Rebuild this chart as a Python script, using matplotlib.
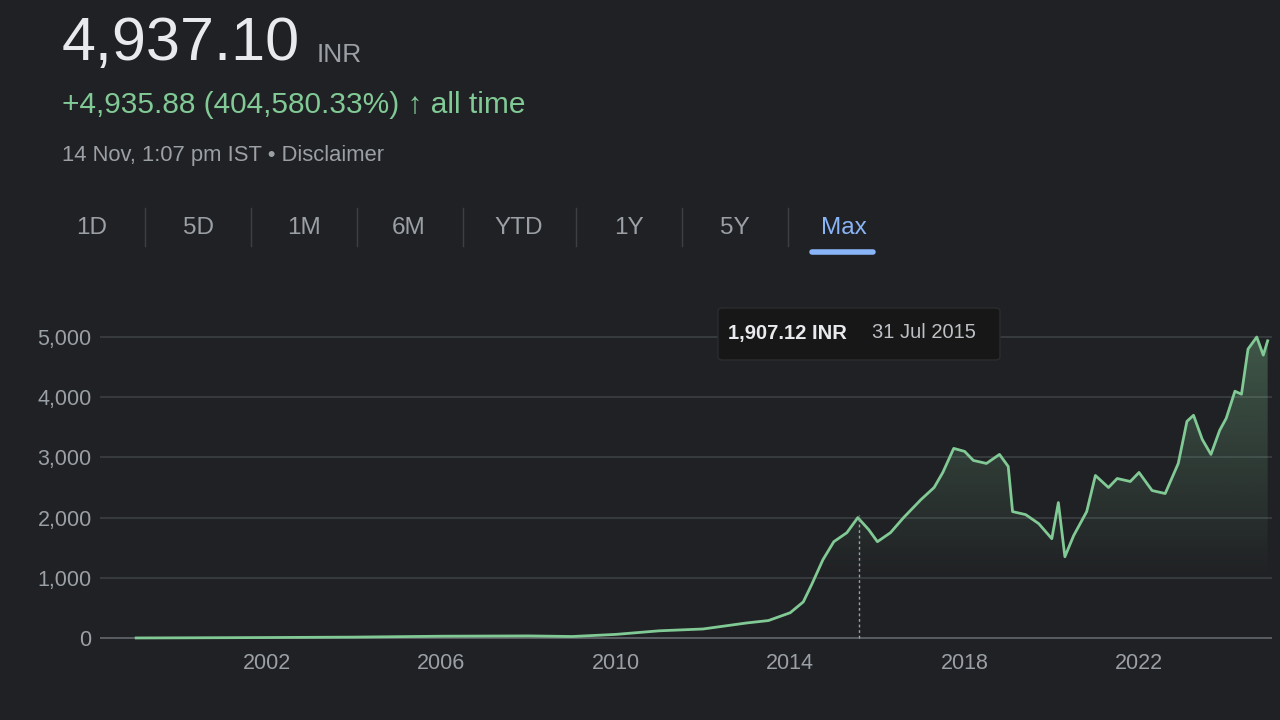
import matplotlib
matplotlib.use("Agg")
import matplotlib.pyplot as plt
import numpy as np
from matplotlib.patches import Polygon

plt.rcParams['font.family'] = ['Liberation Sans', 'DejaVu Sans']

years = [1999.0, 2000.0, 2002.0, 2004.0, 2006.0, 2008.0, 2009.0, 2010.0, 2011.0, 2012.0,
         2013.0, 2013.5, 2014.0, 2014.3, 2014.5, 2014.75, 2015.0, 2015.3, 2015.55, 2015.8,
         2016.0, 2016.3, 2016.6, 2016.8, 2017.0, 2017.3, 2017.5, 2017.75, 2018.0, 2018.2,
         2018.5, 2018.8, 2019.0, 2019.1, 2019.4, 2019.7, 2020.0, 2020.15, 2020.3, 2020.5,
         2020.8, 2021.0, 2021.3, 2021.5, 2021.8, 2022.0, 2022.3, 2022.6, 2022.9, 2023.1,
         2023.25, 2023.45, 2023.65, 2023.85, 2024.0, 2024.2, 2024.35, 2024.5, 2024.7, 2024.85, 2024.95]
prices = [1, 3, 8, 15, 30, 35, 25, 60, 120, 150,
          250, 290, 420, 600, 900, 1300, 1600, 1750, 2000, 1800,
          1600, 1750, 2000, 2150, 2300, 2500, 2750, 3150, 3100, 2950,
          2900, 3050, 2850, 2100, 2050, 1900, 1650, 2250, 1350, 1700,
          2100, 2700, 2500, 2650, 2600, 2750, 2450, 2400, 2900, 3600,
          3700, 3300, 3050, 3450, 3650, 4100, 4050, 4800, 5000, 4700, 4937]
yticks = [0, 1000, 2000, 3000, 4000, 5000]
xticks = [2002, 2006, 2010, 2014, 2018, 2022]
tabs = ["1D", "5D", "1M", "6M", "YTD", "1Y", "5Y", "Max"]

BG = "#202124"
fig = plt.figure(figsize=(12.8, 7.2), dpi=100, facecolor=BG)
W, H = 1280, 720
ax = fig.add_axes([100/W, 1-645/H, 1172/W, 340/H], facecolor=BG)
ax.set_xlim(1998.17, 2025.05)
ax.set_ylim(-116, 5532)
for s in ax.spines.values():
    s.set_visible(False)
for t in yticks:
    ax.axhline(t, color="#5f6368" if t == 0 else "#3c4043", lw=1.3 if t == 0 else 1.2, zorder=1)
ax.set_yticks(yticks)
ax.set_yticklabels([f"{t:,}" for t in yticks])
ax.set_xticks(xticks)
ax.tick_params(length=0, colors="#9aa0a6", labelsize=15.5)
ax.tick_params(axis="y", pad=6)
ax.tick_params(axis="x", pad=6)

x = np.array(years); y = np.array(prices)
grad = np.linspace(0, 1, 256).reshape(-1, 1)
rgba = np.zeros((256, 1, 4))
rgba[..., 0] = 0x81/255; rgba[..., 1] = 0xc9/255; rgba[..., 2] = 0x95/255
rgba[..., 3] = np.clip((grad[:, 0] - 0.2) / 0.8, 0, 1)[:, None] * 0.32
im = ax.imshow(rgba, extent=[x[0], x[-1], 0, 5000], origin="lower", aspect="auto", zorder=2)
poly = Polygon(np.column_stack([np.r_[x, x[-1], x[0]], np.r_[y, 0, 0]]), closed=True, transform=ax.transData)
im.set_clip_path(poly)
ax.plot(x, y, color="#81c995", lw=2, zorder=3)

tx = 2015.58
ax.plot([tx, tx], [0, 2050], color="#9aa0a6", lw=1, ls=(0, (2, 2)), zorder=4)
fig.patches.append(matplotlib.patches.FancyBboxPatch((718/W, 1-360/H), 282/W, 52/H,
    boxstyle="round,pad=0,rounding_size=0.004", transform=fig.transFigure,
    facecolor="#171717", edgecolor="#2b2c2f"))
fig.text(728/W, 1-333/H, "1,907.12 INR", color="#e8eaed", fontsize=14.5, fontweight="bold", va="center")
fig.text(872/W, 1-333/H, "31 Jul 2015", color="#bdc1c6", fontsize=14.5, va="center")

fig.text(62/W, 1-45/H, "4,937.10", color="#e8eaed", fontsize=44, va="center")
fig.text(317/W, 1-55/H, "INR", color="#9aa0a6", fontsize=19, va="center")
fig.text(62/W, 1-105/H, "+4,935.88 (404,580.33%) \u2191 all time", color="#81c995", fontsize=21.5, va="center")
fig.text(62/W, 1-156/H, "14 Nov, 1:07 pm IST \u2022 Disclaimer", color="#9aa0a6", fontsize=15.8, va="center")

centers = [92, 198, 304, 409, 519, 629, 735, 844]
for c, t in zip(centers, tabs):
    fig.text(c/W, 1-228/H, t, color="#8ab4f8" if t == "Max" else "#9aa0a6", fontsize=17.5,
             ha="center", va="center")
for sx in [145, 251, 357, 463, 576, 682, 788]:
    fig.add_artist(plt.Line2D([sx/W, sx/W], [1-246/H, 1-208/H], color="#3c4043", lw=1))
fig.add_artist(plt.Line2D([812/W, 873/W], [1-252/H, 1-252/H], color="#8ab4f8", lw=4, solid_capstyle="round"))

fig.savefig("out.png", dpi=100, facecolor=BG)
